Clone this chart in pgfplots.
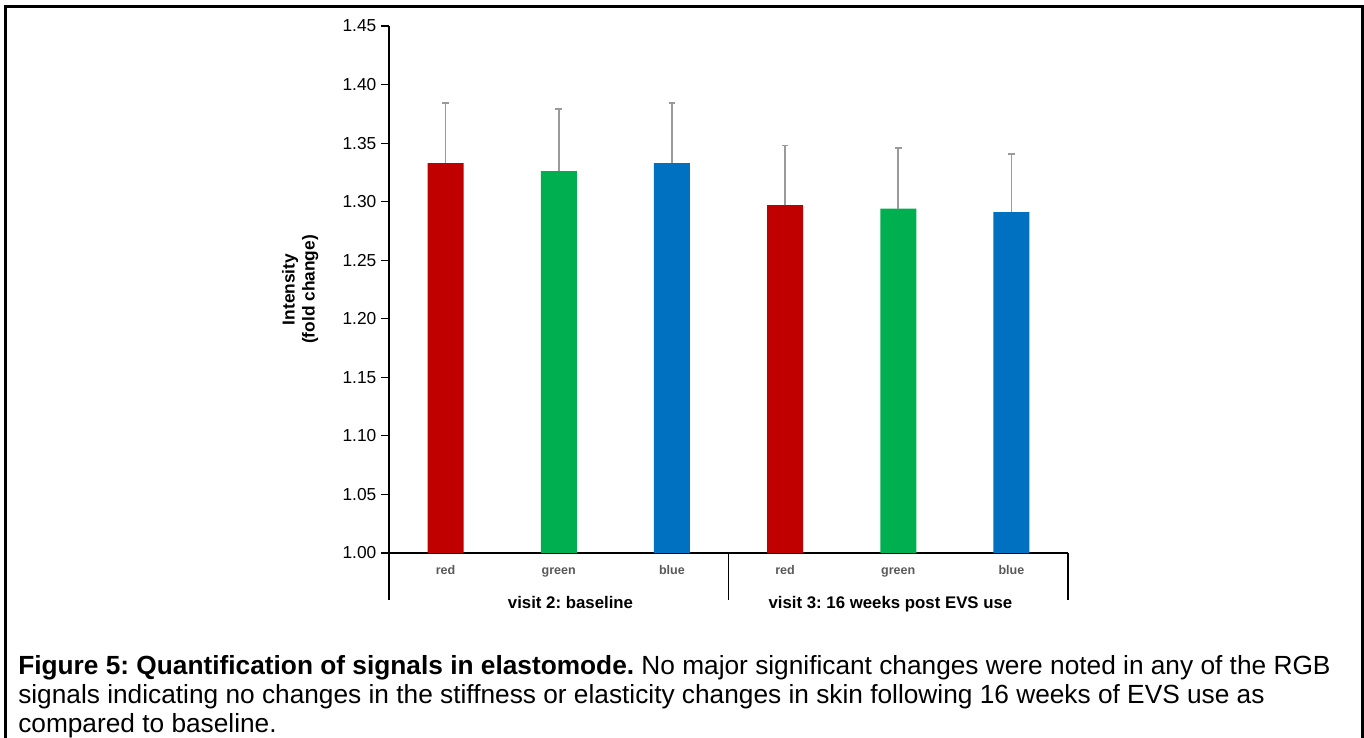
\documentclass[border=0pt]{standalone}
\usepackage{pgfplots}
\pgfplotsset{compat=1.18}
\usepackage{fontspec}
\setmainfont{Liberation Sans}
\frenchspacing
\definecolor{cred}{HTML}{C00000}
\definecolor{cgreen}{HTML}{00B050}
\definecolor{cblue}{HTML}{0070C0}
\definecolor{lblgray}{HTML}{595959}
\definecolor{errgray}{HTML}{9A9A9A}

\begin{document}
\begin{tikzpicture}[x=0.75pt,y=-0.75pt]
\useasboundingbox (0,0) rectangle (1364,738);
\draw[line width=2.25pt] (5,750) -- (5,7) -- (1362,7) -- (1362,750);
\begin{axis}[
  at={(291.75pt,-414.75pt)}, anchor=south west,
  width=509.25pt, height=395.25pt, scale only axis,
  xmin=-0.5, xmax=5.5, ymin=1, ymax=1.45,
  clip=false,
  axis x line*=bottom, axis y line*=left,
  axis line style={black, line width=0.9pt, -},
  tick align=outside,
  major tick length=6pt,
  ytick={1,1.05,1.10,1.15,1.20,1.25,1.30,1.35,1.40,1.45},
  ytick style={black, line width=0.9pt},
  yticklabel style={/pgf/number format/fixed, /pgf/number format/fixed zerofill, /pgf/number format/precision=2, font=\fontsize{13}{15}\selectfont, text=black},
  /pgf/number format/assume math mode=true,
  xtick={0,1,2,3,4,5},
  xticklabels={red,green,blue,red,green,blue},
  xtick style={draw=none},
  xticklabel style={font=\bfseries\fontsize{9.4}{11}\selectfont, text=lblgray, anchor=base, yshift=-9.75pt},
  every axis y label/.style={at={(axis description cs:-0.131,0.5)}, rotate=90, anchor=center, align=center, font=\bfseries\fontsize{13}{15}\selectfont},
  ylabel={Intensity\\(fold change)},
  ybar, bar width=27pt, bar shift=0pt,
  error bars/y dir=plus, error bars/y explicit,
  error bars/error bar style={errgray, line width=1.3pt},
  error bars/error mark options={errgray, rotate=90, mark size=2.5pt, line width=1.3pt},
]
\addplot[fill=cred, draw=none] coordinates {(0,1.333) +- (0,0.051) (3,1.297) +- (0,0.051)};
\addplot[fill=cgreen, draw=none] coordinates {(1,1.326) +- (0,0.053) (4,1.294) +- (0,0.052)};
\addplot[fill=cblue, draw=none] coordinates {(2,1.333) +- (0,0.051) (5,1.291) +- (0,0.050)};
\draw[black, line width=0.9pt] (axis cs:-0.5,1) -- ([yshift=-35.25pt]axis cs:-0.5,1);
\draw[black, line width=0.9pt] (axis cs:2.5,1) -- ([yshift=-35.25pt]axis cs:2.5,1);
\draw[black, line width=0.9pt] (axis cs:5.5,1) -- ([yshift=-35.25pt]axis cs:5.5,1);
\node[anchor=base, font=\bfseries\fontsize{12.6}{14}\selectfont] at ([yshift=-41.25pt]axis cs:1.104,1) {visit 2: baseline};
\node[anchor=base, font=\bfseries\fontsize{12.6}{14}\selectfont] at ([yshift=-41.25pt]axis cs:3.931,1) {visit 3: 16 weeks post EVS use};
\end{axis}
\node[anchor=base west, inner sep=0pt, font=\fontsize{19.7}{23}\selectfont] at (18,674) {\textbf{Figure 5: Quantification of signals in elastomode.} No major significant changes were noted in any of the RGB};
\node[anchor=base west, inner sep=0pt, font=\fontsize{19.7}{23}\selectfont] at (18,703) {signals indicating no changes in the stiffness or elasticity changes in skin following 16 weeks of EVS use as};
\node[anchor=base west, inner sep=0pt, font=\fontsize{19.7}{23}\selectfont] at (18,732) {compared to baseline.};
\end{tikzpicture}
\end{document}
